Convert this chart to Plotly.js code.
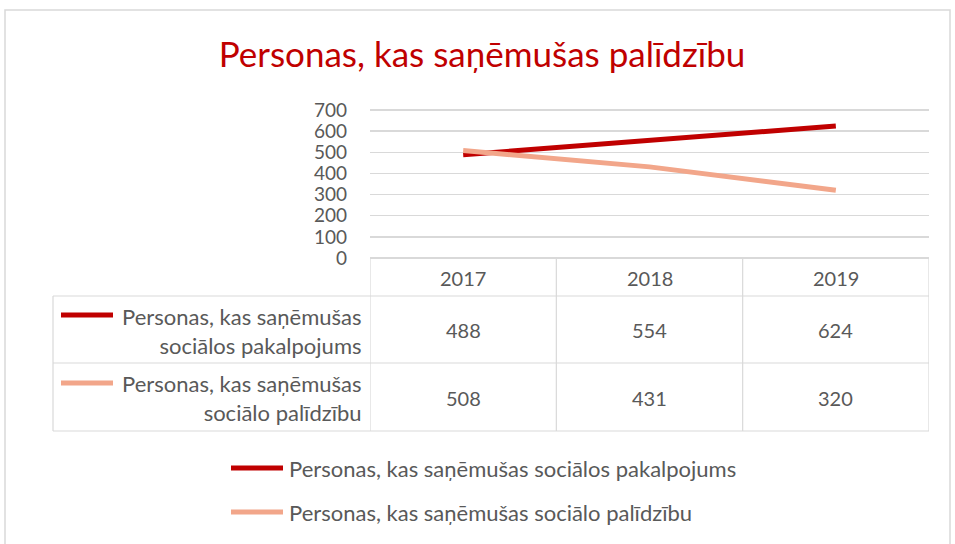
<!DOCTYPE html>
<html>
<head>
<meta charset="utf-8">
<script src="https://cdn.plot.ly/plotly-3.0.1.min.js"></script>
<style>html,body{margin:0;padding:0;background:#fff;}#chart{width:955px;height:544px;}</style>
</head>
<body>
<div id="chart"></div>
<script>
const years = ['2017', '2018', '2019'];
const seriesNames = ['Personas, kas saņēmušas sociālos pakalpojums', 'Personas, kas saņēmušas sociālo palīdzību'];
const rowLabels = ['Personas, kas saņēmušas<br>sociālos pakalpojums', 'Personas, kas saņēmušas<br>sociālo palīdzību'];
const pakalpojumi = [488, 554, 624];
const palidziba = [508, 431, 320];
const yTicks = [0, 100, 200, 300, 400, 500, 600, 700];
const titleText = 'Personas, kas saņēmušas palīdzību';

(function () {
const W = 955, H = 544;
const px = x => x / W;
const py = y => 1 - y / H;
const FONT = 'Lato, "Open Sans", sans-serif';
const GRAY = '#595959';
const GRID = '#d9d9d9';
const colors = ['#c00000', '#f2a68a'];
const seriesValues = [pakalpojumi, palidziba];

const traces = seriesValues.map((vals, i) => ({
  type: 'scatter', mode: 'lines', x: years, y: vals, name: seriesNames[i],
  line: {color: colors[i], width: 5}, showlegend: false, hoverinfo: 'x+y'
}));

const shapes = [];
const annotations = [];
shapes.push({type: 'rect', xref: 'paper', yref: 'paper', x0: px(5), x1: px(950), y0: py(560), y1: py(10), line: {color: GRID, width: 1.5}, layer: 'below'});
const tLeft = 53, tRight = 929, plotTop = 110, axisY = 258, hdr = 296, r1 = 363, r2 = 431;
[hdr, r1, r2].forEach(y => shapes.push({type: 'line', xref: 'paper', yref: 'paper', x0: px(tLeft), x1: px(tRight), y0: py(y), y1: py(y), line: {color: GRID, width: 1.2}}));
shapes.push({type: 'line', xref: 'paper', yref: 'paper', x0: px(tLeft), x1: px(tLeft), y0: py(hdr), y1: py(r2), line: {color: GRID, width: 1.2}});
[-0.5, 0.5, 1.5, 2.5].forEach(c => shapes.push({type: 'line', xref: 'x', yref: 'paper', x0: c, x1: c, y0: py(axisY), y1: py(r2), line: {color: GRID, width: 1.2}}));
// legend keys inside the data table
const keyY = [315, 383];
keyY.forEach((y, i) => shapes.push({type: 'line', xref: 'paper', yref: 'paper', x0: px(61), x1: px(113), y0: py(y), y1: py(y), line: {color: colors[i], width: 5}}));
rowLabels.forEach((t, i) => annotations.push({xref: 'paper', yref: 'paper', x: px(364), y: py(i === 0 ? 331 : 398), xanchor: 'right', yanchor: 'middle', align: 'right', text: t, showarrow: false, font: {family: FONT, size: 22, color: GRAY}}));
years.forEach((yr, j) => annotations.push({xref: 'x', yref: 'paper', x: j, y: py(278), yanchor: 'middle', text: yr, showarrow: false, font: {family: FONT, size: 20, color: GRAY}}));
seriesValues.forEach((vals, i) => vals.forEach((v, j) => annotations.push({xref: 'x', yref: 'paper', x: j, y: py(i === 0 ? 330 : 398), yanchor: 'middle', text: String(v), showarrow: false, font: {family: FONT, size: 20, color: GRAY}})));
// bottom legend
const legY = [468, 512];
seriesNames.forEach((n, i) => {
  shapes.push({type: 'line', xref: 'paper', yref: 'paper', x0: px(231), x1: px(283), y0: py(legY[i]), y1: py(legY[i]), line: {color: colors[i], width: 5}});
  annotations.push({xref: 'paper', yref: 'paper', x: px(287), y: py(legY[i]), xanchor: 'left', yanchor: 'middle', text: n, showarrow: false, font: {family: FONT, size: 22, color: GRAY}});
});

const yPad = 9;
const pxPerUnit = (axisY - plotTop) / 700;
const layout = {
  width: W, height: H,
  margin: {l: 0, r: 0, t: 0, b: 0},
  paper_bgcolor: '#ffffff', plot_bgcolor: '#ffffff',
  title: {text: titleText, font: {family: FONT, size: 35, color: '#c00000'}, x: px(482), xanchor: 'center', y: py(55), yanchor: 'middle'},
  xaxis: {type: 'category', domain: [px(370), px(929)], range: [-0.5, 2.5], showticklabels: false, showgrid: false, zeroline: false, showline: false, ticks: '', fixedrange: true},
  yaxis: {domain: [py(axisY + yPad * pxPerUnit), py(plotTop - yPad * pxPerUnit)], range: [-yPad, 700 + yPad], tickvals: yTicks, ticktext: yTicks.map(String), showgrid: true, gridcolor: GRID, gridwidth: 1.5, zeroline: false, showline: false, ticks: '', ticklabelstandoff: 22, tickfont: {family: FONT, size: 19, color: GRAY}, fixedrange: true},
  showlegend: false,
  shapes: shapes, annotations: annotations
};

Plotly.newPlot('chart', traces, layout, {displayModeBar: false, staticPlot: true});
})();
</script>
</body>
</html>
